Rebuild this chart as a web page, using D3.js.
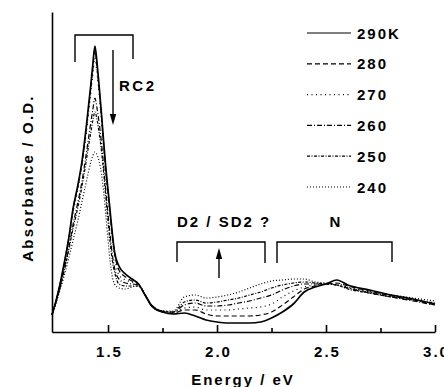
<!DOCTYPE html>
<html>
<head>
<meta charset="utf-8">
<script src="https://cdn.jsdelivr.net/npm/d3@7"></script>
<style>
  body { margin: 0; background: #fff; }
  svg text { font-family: "Liberation Sans", Arial, sans-serif; font-weight: bold; fill: #000; }
</style>
</head>
<body>
<svg id="chart" width="444" height="387"></svg>
<script>
// photon energy (eV), shared by every spectrum
const energy = [1.243, 1.26, 1.28, 1.30, 1.32, 1.34, 1.36, 1.38, 1.40, 1.41,
  1.42, 1.43, 1.44, 1.45, 1.46, 1.47, 1.48, 1.49, 1.50, 1.51,
  1.52, 1.53, 1.55, 1.58, 1.61, 1.64, 1.67, 1.70, 1.75, 1.80,
  1.85, 1.90, 1.95, 2.00, 2.05, 2.10, 2.15, 2.20, 2.25, 2.30,
  2.35, 2.40, 2.45, 2.50, 2.55, 2.60, 2.70, 2.80, 2.90, 3.00]

// absorbance, arbitrary units (no scale on the axis)
const abs290 = [17, 30, 48, 70, 94, 124, 145, 170, 205, 225,
  245, 267, 286, 268, 244, 218, 190, 164, 142, 120,
  98, 80, 66, 58, 53, 48, 37, 26, 20, 18,
  19, 16, 12, 10, 9, 9, 9, 10, 14, 20,
  28, 40, 45, 48, 52, 47, 42, 37, 33, 28]
const abs280 = [17, 30, 48, 69, 93, 123, 144, 168, 203, 222,
  242, 263, 282, 264, 241, 216, 188, 162, 140, 118,
  96, 79, 62, 55, 51, 48, 37, 26, 20, 19,
  22, 22, 18, 16, 16, 16, 16, 17, 20, 27,
  35, 43, 46, 48, 49, 46, 41, 36, 32, 27]
const abs270 = [17, 30, 47, 69, 92, 120, 141, 166, 199, 218,
  237, 257, 274, 258, 236, 211, 184, 159, 136, 115,
  93, 76, 57, 52, 50, 47, 37, 26, 20, 19,
  24, 25, 22, 22, 22, 23, 24, 25, 28, 35,
  41, 45, 47, 48, 48, 45, 40, 36, 32, 28]
const abs260 = [17, 29, 45, 64, 84, 108, 128, 150, 178, 193,
  208, 222, 234, 223, 208, 189, 166, 141, 118, 96,
  77, 64, 53, 49, 48, 47, 37, 27, 21, 20,
  27, 29, 26, 26, 27, 29, 31, 34, 37, 42,
  46, 48, 48, 48, 47, 44, 39, 35, 31, 27]
const abs250 = [17, 29, 44, 62, 82, 104, 123, 145, 171, 185,
  198, 211, 220, 212, 198, 181, 159, 135, 111, 89,
  71, 60, 48, 46, 46, 46, 37, 27, 21, 20,
  30, 32, 29, 30, 32, 34, 37, 40, 44, 47,
  49, 50, 49, 48, 47, 43, 39, 35, 32, 29]
const abs240 = [17, 28, 42, 57, 74, 92, 110, 130, 150, 160,
  169, 176, 180, 177, 170, 158, 140, 117, 92, 70,
  55, 48, 44, 43, 45, 46, 37, 27, 21, 21,
  35, 37, 34, 35, 37, 40, 44, 48, 51, 52,
  53, 53, 50, 49, 47, 44, 40, 37, 34, 31]

const temps = ['290K', '280', '270', '260', '250', '240']
const spectra = [abs290, abs280, abs270, abs260, abs250, abs240]
const dashes = ['none', '5,3', '1,3.5', '5,2,1,2', '3,1.5,1,1.5', '1,2']

const majorTicks = [1.5, 2.0, 2.5, 3.0]
const minorTicks = [1.75, 2.25, 2.75]

const svg = d3.select('#chart')
const x = d3.scaleLinear().domain([1.243, 3.0]).range([52, 435])
const y = d3.scaleLinear().domain([0, 320]).range([332, 12])

// axes
svg.append('g')
  .attr('transform', 'translate(0,332)')
  .call(d3.axisBottom(x).tickValues(minorTicks).tickSize(-4).tickSizeOuter(0).tickFormat(''))
  .call(g => g.select('.domain').remove())
svg.append('g')
  .attr('transform', 'translate(0,332)')
  .call(d3.axisBottom(x).tickValues(majorTicks).tickSize(-7).tickSizeOuter(0).tickPadding(14).tickFormat(d3.format('.1f')))
  .call(g => g.selectAll('text').attr('font-size', 15).attr('letter-spacing', 2).attr('dx', 1))
svg.append('g')
  .attr('transform', 'translate(52,0)')
  .call(d3.axisLeft(y).tickValues([]).tickSizeOuter(0))
svg.selectAll('.domain, .tick line').attr('stroke', '#000').attr('stroke-width', 1.6)
svg.selectAll('g text').attr('font-family', null).style('font-family', '"Liberation Sans", Arial, sans-serif')

svg.append('text')
  .attr('x', 243).attr('y', 385)
  .attr('text-anchor', 'middle')
  .attr('font-size', 15).attr('letter-spacing', 2)
  .text('Energy / eV')
svg.append('text')
  .attr('transform', 'translate(33,178) rotate(-90)')
  .attr('text-anchor', 'middle')
  .attr('font-size', 15).attr('letter-spacing', 2.2)
  .text('Absorbance / O.D.')

// spectra, coldest first so the 290K trace sits on top
const line = d3.line()
  .x((d, i) => x(energy[i]))
  .y(d => y(d))
  .curve(d3.curveMonotoneX)

for (let k = spectra.length - 1; k >= 0; k--) {
  svg.append('path')
    .attr('d', line(spectra[k]))
    .attr('fill', 'none')
    .attr('stroke', '#000')
    .attr('stroke-width', k === 0 ? 1.7 : 1.2)
    .attr('stroke-dasharray', dashes[k])
}

// legend
temps.forEach((t, k) => {
  const ly = 33 + k * 30.8
  svg.append('line')
    .attr('x1', 307).attr('x2', 351).attr('y1', ly).attr('y2', ly)
    .attr('stroke', '#000').attr('stroke-width', 1.2)
    .attr('stroke-dasharray', dashes[k])
  svg.append('text')
    .attr('x', 357).attr('y', ly + 5.5)
    .attr('font-size', 15).attr('letter-spacing', 2)
    .text(t)
})

// band brackets and arrows
const bracket = (x1, x2, top, l1, l2) => {
  svg.append('path')
    .attr('d', `M${x1},${l1}V${top}H${x2}V${l2}`)
    .attr('fill', 'none').attr('stroke', '#000').attr('stroke-width', 1.4)
}
const arrow = (ax, from, to) => {
  const dir = Math.sign(to - from)
  svg.append('line')
    .attr('x1', ax).attr('x2', ax).attr('y1', from).attr('y2', to - dir * 9)
    .attr('stroke', '#000').attr('stroke-width', 1.4)
  svg.append('path')
    .attr('d', `M${ax - 3.2},${to - dir * 11}L${ax},${to}L${ax + 3.2},${to - dir * 11}Z`)
    .attr('fill', '#000')
}

bracket(75, 133, 35, 62, 59)
arrow(113, 50, 125)
svg.append('text').attr('x', 119).attr('y', 91)
  .attr('font-size', 15).attr('letter-spacing', 2.5).text('RC2')

bracket(177, 265, 242, 262, 263)
bracket(277, 392, 242, 263, 262)
arrow(219, 278, 248)
svg.append('text').attr('x', 177).attr('y', 227)
  .attr('font-size', 15).attr('letter-spacing', 2).text('D2 / SD2 ?')
svg.append('text').attr('x', 335).attr('y', 227)
  .attr('text-anchor', 'middle')
  .attr('font-size', 15).text('N')
</script>
</body>
</html>
